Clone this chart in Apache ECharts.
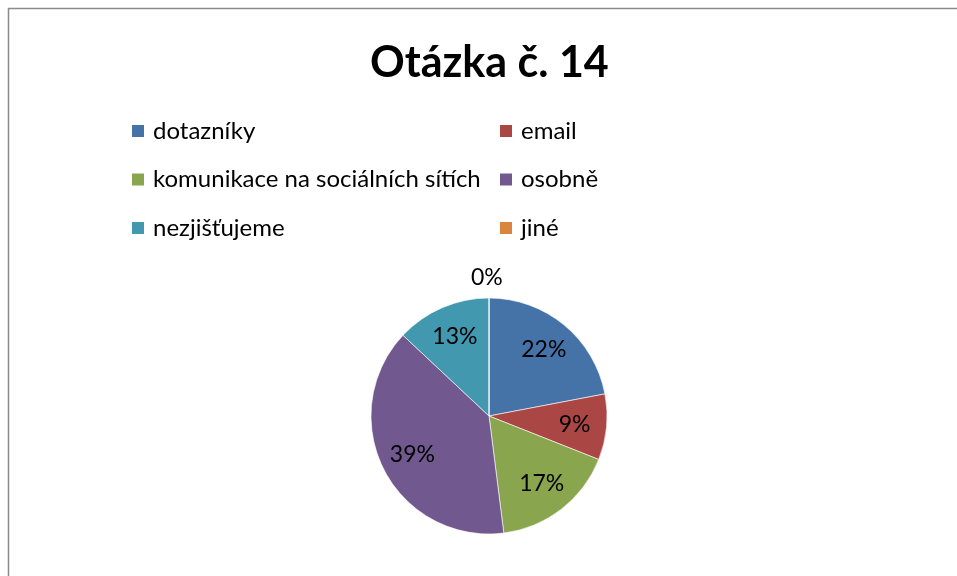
<!DOCTYPE html>
<html>
<head>
<meta charset="utf-8">
<script src="https://cdn.jsdelivr.net/npm/echarts@6/dist/echarts.min.js"></script>
<style>
html, body { margin: 0; padding: 0; background: #fff; }
#chart { width: 957px; height: 576px; }
</style>
</head>
<body>
<div id="chart"></div>
<script>
// Otázka č. 14 - podíly odpovědí
const categories = ['dotazníky', 'email', 'komunikace na sociálních sítích', 'osobně', 'nezjišťujeme', 'jiné']
const values = [22, 9, 17, 39, 13, 0]
const colors = ['#4572A7', '#AA4643', '#89A54E', '#71588F', '#4198AF', '#DB843D']

const leftColumn = [categories[0], categories[2], categories[4]]
const rightColumn = [categories[1], categories[3], categories[5]]

const font = 'Lato, "Noto Sans", sans-serif'

let pieData = categories.map((name, i) => ({ name: name, value: values[i] }))

let chart = echarts.init(document.getElementById('chart'))

let legendBase = {
    orient: 'vertical',
    top: 119,
    padding: 0,
    itemWidth: 14,
    itemHeight: 14,
    itemGap: 24.5,
    icon: 'rect',
    textStyle: { fontFamily: font, fontSize: 24, lineHeight: 24, color: '#000', padding: [0, 0, 0, 3] }
}

let option = {
    color: colors,
    animation: false,
    title: {
        text: 'Otázka č. 14',
        left: 365,
        top: 37,
        textStyle: { fontFamily: font, fontSize: 43, fontWeight: 'bold', color: '#000' }
    },
    legend: [
        Object.assign({}, legendBase, { left: 130, data: leftColumn }),
        Object.assign({}, legendBase, { left: 498, data: rightColumn })
    ],
    graphic: [{
        type: 'rect',
        shape: { x: 8.5, y: 8.5, width: 1200, height: 1200 },
        style: { fill: 'none', stroke: '#8a8a8a', lineWidth: 1.5 },
        silent: true
    }],
    series: [
        {
            // the pie itself, only the zero slice gets an outside label
            name: 'main',
            type: 'pie',
            center: [489, 416],
            radius: [0, 118],
            startAngle: 90,
            clockwise: true,
            avoidLabelOverlap: false,
            itemStyle: { borderColor: '#fff', borderWidth: 0.6 },
            label: { show: false },
            labelLine: { show: false },
            data: pieData.map(d => d.value === 0 ? Object.assign({}, d, {
                label: {
                    show: true, position: 'outside', formatter: '{d}%',
                    fontFamily: font, fontSize: 23, color: '#000', offset: [-23, -14]
                },
                labelLine: { show: false, length: 6, length2: 0 }
            }) : d)
        },
        {
            // transparent ring carrying the inside percentage labels
            name: 'labels',
            type: 'pie',
            center: [489, 416],
            radius: [48, 118],
            startAngle: 90,
            clockwise: true,
            silent: true,
            itemStyle: { color: 'rgba(0,0,0,0)' },
            label: {
                show: true, position: 'inside', formatter: p => p.value > 0 ? p.percent + '%' : '',
                fontFamily: font, fontSize: 23, color: '#000'
            },
            labelLine: { show: false },
            data: pieData
        }
    ]
}

chart.setOption(option)
window.addEventListener('resize', () => chart.resize())
</script>
</body>
</html>
